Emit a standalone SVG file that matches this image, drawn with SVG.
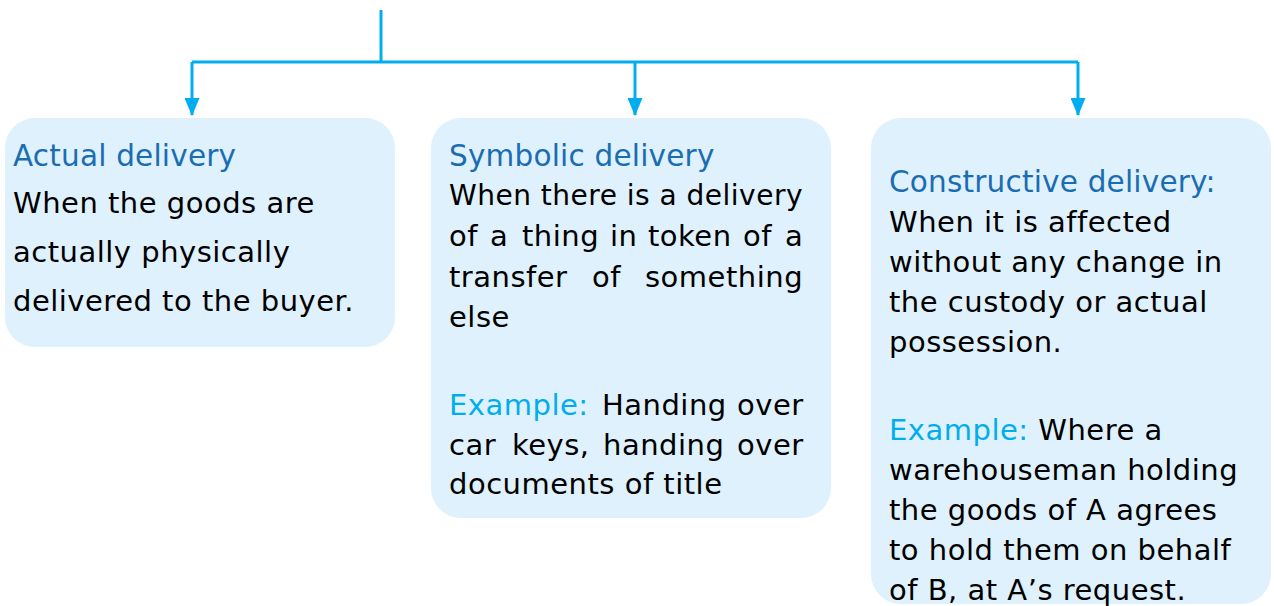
<svg xmlns="http://www.w3.org/2000/svg" width="1274" height="606" viewBox="0 0 1274 606">
  <defs>
    <marker id="arrow" markerWidth="18" markerHeight="15" refX="17" refY="7.5" orient="auto" markerUnits="userSpaceOnUse" viewBox="0 0 18 15">
      <path d="M0,0 L18,7.5 L0,15 Z" fill="#00aeef"/>
    </marker>
    <style>
      .box { fill: #dff1fc; }
      .wire { fill: none; stroke: #00aeef; stroke-width: 3; }
      .title { font-family: "DejaVu Sans", "Noto Sans", sans-serif; font-size: 29.5px; letter-spacing: 0.2px; fill: #1b6db3; }
      .body { font-family: "DejaVu Sans", "Noto Sans", sans-serif; font-size: 29px; letter-spacing: 0.5px; fill: #000; }
      .ex { fill: #00aeef; }
    </style>
  </defs>

  <rect width="1274" height="606" fill="#ffffff"/>

  <!-- connectors: trunk, bus and three drops -->
  <g id="connectors">
    <path class="wire" d="M381,10 V62"/>
    <path class="wire" d="M192,62 H1078"/>
    <path class="wire" d="M192,62 V115" marker-end="url(#arrow)"/>
    <path class="wire" d="M635,62 V115" marker-end="url(#arrow)"/>
    <path class="wire" d="M1078,62 V115" marker-end="url(#arrow)"/>
  </g>

  <!-- actual delivery -->
  <g id="actual">
    <rect class="box" x="5" y="118" width="390" height="229" rx="30"/>
    <text class="title" x="13" y="166">Actual delivery</text>
    <text class="body" x="13" y="213">When the goods are</text>
    <text class="body" x="13" y="262">actually physically</text>
    <text class="body" x="13" y="311">delivered to the buyer.</text>
  </g>

  <!-- symbolic delivery (justified paragraph: words placed one by one) -->
  <g id="symbolic">
    <rect class="box" x="431" y="118" width="400" height="400" rx="30"/>
    <text class="title" x="449" y="166">Symbolic delivery</text>
    <text class="body" x="449" y="205" textLength="354" lengthAdjust="spacingAndGlyphs">When there is a delivery</text>
    <text class="body" y="246"><tspan x="449">of</tspan><tspan x="490">a</tspan><tspan x="522">thing</tspan><tspan x="610">in</tspan><tspan x="648">token</tspan><tspan x="743">of</tspan><tspan x="785">a</tspan></text>
    <text class="body" y="287"><tspan x="449">transfer</tspan><tspan x="592">of</tspan><tspan x="645">something</tspan></text>
    <text class="body" x="449" y="327">else</text>
    <text class="body" y="415"><tspan class="ex" x="449">Example:</tspan><tspan x="602">Handing</tspan><tspan x="737">over</tspan></text>
    <text class="body" y="455"><tspan x="449">car</tspan><tspan x="512">keys,</tspan><tspan x="603">handing</tspan><tspan x="737">over</tspan></text>
    <text class="body" x="449" y="494">documents of title</text>
  </g>

  <!-- constructive delivery -->
  <g id="constructive">
    <rect class="box" x="871" y="118" width="400" height="486" rx="30"/>
    <text class="title" x="889" y="192">Constructive delivery:</text>
    <text class="body" x="889" y="232">When it is affected</text>
    <text class="body" x="889" y="272">without any change in</text>
    <text class="body" x="889" y="312">the custody or actual</text>
    <text class="body" x="889" y="352">possession.</text>
    <text class="body" x="889" y="440"><tspan class="ex">Example:</tspan> Where a</text>
    <text class="body" x="889" y="480">warehouseman holding</text>
    <text class="body" x="889" y="520">the goods of A agrees</text>
    <text class="body" x="889" y="560">to hold them on behalf</text>
    <text class="body" x="889" y="600">of B, at A’s request.</text>
  </g>
</svg>
